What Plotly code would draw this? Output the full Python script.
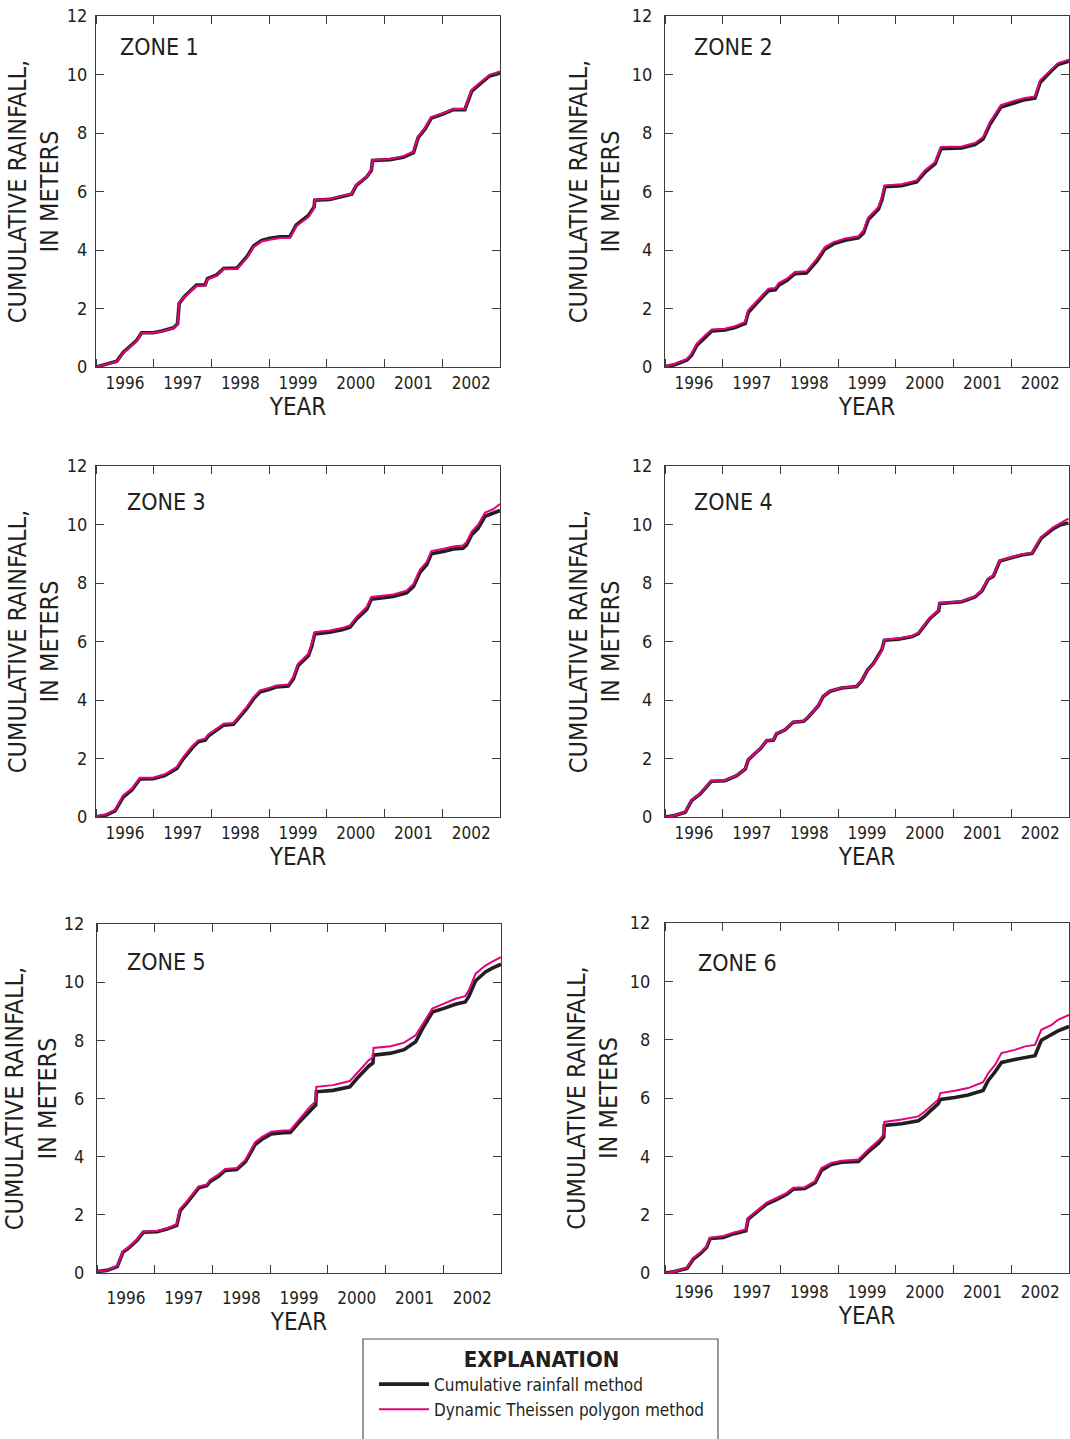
import datetime as dt
import plotly.graph_objects as go

# ---------------- data (decimal years, cumulative rainfall in meters) ----------------
z1_year = [1996.00, 1996.36, 1996.47, 1996.59, 1996.70, 1996.79, 1996.99, 1997.14, 1997.34, 1997.41,
           1997.44, 1997.54, 1997.74, 1997.89, 1997.93, 1998.09, 1998.21, 1998.44, 1998.61, 1998.73,
           1998.87, 1999.01, 1999.19, 1999.36, 1999.47, 1999.68, 1999.78, 1999.79, 2000.05, 2000.28,
           2000.43, 2000.51, 2000.69, 2000.77, 2000.79, 2001.09, 2001.32, 2001.50, 2001.58, 2001.70,
           2001.81, 2002.02, 2002.19, 2002.39, 2002.51, 2002.68, 2002.82, 2003.00]
z1_cumulative = [0.00, 0.20, 0.50, 0.70, 0.90, 1.17, 1.17, 1.23, 1.34, 1.47, 2.17, 2.43, 2.80, 2.81, 3.02, 3.15,
                 3.37, 3.38, 3.76, 4.14, 4.33, 4.40, 4.45, 4.46, 4.86, 5.18, 5.47, 5.70, 5.73, 5.84, 5.91, 6.21,
                 6.50, 6.72, 7.06, 7.09, 7.17, 7.33, 7.84, 8.14, 8.51, 8.66, 8.80, 8.80, 9.43, 9.72, 9.95, 10.05]
z1_theissen = [0.00, 0.19, 0.48, 0.68, 0.88, 1.16, 1.16, 1.22, 1.33, 1.45, 2.19, 2.41, 2.78, 2.78, 3.00, 3.12,
               3.35, 3.35, 3.72, 4.10, 4.29, 4.35, 4.41, 4.42, 4.81, 5.13, 5.43, 5.72, 5.74, 5.85, 5.92, 6.23,
               6.51, 6.74, 7.08, 7.11, 7.20, 7.37, 7.88, 8.17, 8.54, 8.68, 8.82, 8.82, 9.48, 9.76, 9.99, 10.10]

z2_year = [1996.00, 1996.17, 1996.38, 1996.46, 1996.55, 1996.69, 1996.81, 1997.04, 1997.21, 1997.39,
           1997.44, 1997.59, 1997.79, 1997.91, 1997.97, 1998.11, 1998.25, 1998.45, 1998.63, 1998.77,
           1998.92, 1999.12, 1999.35, 1999.44, 1999.52, 1999.70, 1999.76, 1999.81, 2000.10, 2000.36,
           2000.50, 2000.68, 2000.78, 2001.14, 2001.37, 2001.51, 2001.63, 2001.82, 2002.03, 2002.24,
           2002.41, 2002.50, 2002.67, 2002.81, 2003.00]
z2_cumulative = [0.01, 0.08, 0.24, 0.40, 0.74, 1.02, 1.23, 1.27, 1.35, 1.49, 1.86, 2.19, 2.61, 2.64, 2.80, 2.96,
                 3.19, 3.21, 3.62, 4.03, 4.21, 4.33, 4.42, 4.58, 5.03, 5.40, 5.73, 6.16, 6.20, 6.33, 6.65, 6.95,
                 7.46, 7.49, 7.60, 7.79, 8.30, 8.89, 9.03, 9.14, 9.19, 9.73, 10.08, 10.34, 10.46]
z2_theissen = [0.02, 0.11, 0.28, 0.46, 0.80, 1.08, 1.28, 1.31, 1.39, 1.54, 1.94, 2.26, 2.68, 2.70, 2.87, 3.02,
               3.25, 3.27, 3.70, 4.10, 4.27, 4.39, 4.47, 4.67, 5.11, 5.47, 5.81, 6.21, 6.25, 6.38, 6.72, 7.01,
               7.52, 7.54, 7.66, 7.86, 8.38, 8.95, 9.09, 9.20, 9.25, 9.80, 10.14, 10.39, 10.51]

z3_year = [1996.00, 1996.18, 1996.33, 1996.47, 1996.62, 1996.76, 1996.99, 1997.19, 1997.40, 1997.51,
           1997.66, 1997.77, 1997.89, 1997.95, 1998.09, 1998.21, 1998.38, 1998.61, 1998.73, 1998.84,
           1999.01, 1999.13, 1999.33, 1999.42, 1999.50, 1999.68, 1999.74, 1999.79, 2000.05, 2000.28,
           2000.40, 2000.51, 2000.69, 2000.77, 2001.15, 2001.38, 2001.50, 2001.61, 2001.73, 2001.81,
           2002.02, 2002.19, 2002.36, 2002.42, 2002.51, 2002.62, 2002.74, 2002.88, 2003.00]
z3_cumulative = [0.01, 0.07, 0.21, 0.68, 0.92, 1.30, 1.31, 1.42, 1.66, 1.99, 2.35, 2.57, 2.63, 2.78, 2.97, 3.14,
                 3.17, 3.70, 4.04, 4.27, 4.37, 4.45, 4.48, 4.72, 5.17, 5.51, 5.85, 6.26, 6.32, 6.41, 6.49, 6.76,
                 7.10, 7.45, 7.54, 7.66, 7.88, 8.36, 8.63, 9.00, 9.08, 9.16, 9.19, 9.30, 9.65, 9.87, 10.28,
                 10.38, 10.48]
z3_theissen = [0.02, 0.09, 0.25, 0.74, 0.97, 1.34, 1.34, 1.46, 1.71, 2.05, 2.41, 2.62, 2.68, 2.83, 3.02, 3.19,
               3.21, 3.76, 4.10, 4.33, 4.42, 4.50, 4.53, 4.78, 5.24, 5.58, 5.92, 6.32, 6.38, 6.47, 6.55, 6.83,
               7.18, 7.52, 7.61, 7.74, 7.97, 8.45, 8.72, 9.09, 9.17, 9.25, 9.28, 9.40, 9.76, 9.99, 10.41,
               10.52, 10.70]

z4_year = [1996.00, 1996.17, 1996.35, 1996.46, 1996.61, 1996.69, 1996.80, 1997.04, 1997.24, 1997.39,
           1997.44, 1997.56, 1997.65, 1997.76, 1997.88, 1997.93, 1998.08, 1998.22, 1998.40, 1998.48,
           1998.66, 1998.74, 1998.86, 1999.06, 1999.32, 1999.41, 1999.51, 1999.61, 1999.76, 1999.80,
           2000.04, 2000.27, 2000.39, 2000.59, 2000.74, 2000.76, 2001.14, 2001.37, 2001.49, 2001.60,
           2001.69, 2001.80, 2002.00, 2002.18, 2002.36, 2002.52, 2002.73, 2002.84, 2002.99]
z4_cumulative = [0.00, 0.05, 0.16, 0.56, 0.79, 0.96, 1.22, 1.24, 1.41, 1.64, 1.95, 2.18, 2.33, 2.61, 2.63, 2.84,
                 2.98, 3.24, 3.27, 3.41, 3.81, 4.12, 4.30, 4.41, 4.46, 4.66, 5.03, 5.24, 5.73, 6.04, 6.08, 6.16,
                 6.27, 6.79, 7.05, 7.30, 7.36, 7.52, 7.73, 8.13, 8.24, 8.75, 8.87, 8.96, 9.01, 9.54, 9.86,
                 9.98, 10.05]
z4_theissen = [0.00, 0.05, 0.17, 0.57, 0.80, 0.97, 1.23, 1.25, 1.42, 1.65, 1.96, 2.19, 2.34, 2.62, 2.64, 2.85,
               2.99, 3.25, 3.28, 3.42, 3.82, 4.13, 4.31, 4.42, 4.47, 4.67, 5.04, 5.22, 5.70, 6.06, 6.10, 6.18,
               6.29, 6.81, 7.07, 7.32, 7.38, 7.54, 7.75, 8.15, 8.26, 8.77, 8.89, 8.98, 9.03, 9.57, 9.91,
               10.03, 10.20]

z5_year = [1996.00, 1996.17, 1996.35, 1996.45, 1996.54, 1996.69, 1996.80, 1997.04, 1997.21, 1997.38,
           1997.44, 1997.56, 1997.76, 1997.90, 1997.96, 1998.10, 1998.22, 1998.42, 1998.57, 1998.74,
           1998.86, 1999.02, 1999.23, 1999.35, 1999.52, 1999.69, 1999.79, 1999.80, 2000.09, 2000.38,
           2000.50, 2000.71, 2000.78, 2000.79, 2001.09, 2001.32, 2001.52, 2001.64, 2001.81, 2002.01,
           2002.21, 2002.38, 2002.44, 2002.56, 2002.73, 2002.85, 2003.00]
z5_cumulative = [0.05, 0.09, 0.22, 0.72, 0.85, 1.12, 1.40, 1.42, 1.51, 1.64, 2.15, 2.42, 2.93, 3.00, 3.15, 3.32,
                 3.53, 3.56, 3.82, 4.42, 4.60, 4.78, 4.82, 4.83, 5.22, 5.60, 5.78, 6.23, 6.28, 6.40, 6.68, 7.12,
                 7.22, 7.49, 7.56, 7.68, 7.95, 8.40, 8.97, 9.10, 9.24, 9.32, 9.50, 10.05, 10.35, 10.48, 10.62]
z5_theissen = [0.05, 0.09, 0.24, 0.75, 0.87, 1.15, 1.42, 1.44, 1.53, 1.67, 2.21, 2.47, 2.98, 3.04, 3.21, 3.38,
               3.58, 3.61, 3.89, 4.50, 4.68, 4.86, 4.90, 4.91, 5.32, 5.72, 5.90, 6.40, 6.46, 6.60, 6.86, 7.32,
               7.42, 7.74, 7.80, 7.92, 8.17, 8.57, 9.09, 9.26, 9.43, 9.52, 9.71, 10.29, 10.57, 10.71, 10.86]

z6_year = [1996.00, 1996.17, 1996.38, 1996.49, 1996.61, 1996.72, 1996.78, 1997.01, 1997.18, 1997.40,
           1997.44, 1997.59, 1997.76, 1997.94, 1998.11, 1998.22, 1998.42, 1998.60, 1998.71, 1998.88,
           1999.06, 1999.35, 1999.52, 1999.70, 1999.79, 1999.80, 2000.10, 2000.39, 2000.50, 2000.73,
           2000.77, 2001.02, 2001.25, 2001.51, 2001.60, 2001.72, 2001.83, 2002.06, 2002.24, 2002.41,
           2002.52, 2002.70, 2002.81, 2003.00]
z6_cumulative = [0.00, 0.05, 0.16, 0.48, 0.66, 0.88, 1.18, 1.22, 1.34, 1.45, 1.85, 2.08, 2.36, 2.52, 2.70, 2.87,
                 2.90, 3.10, 3.52, 3.72, 3.80, 3.82, 4.15, 4.45, 4.66, 5.06, 5.12, 5.22, 5.38, 5.80, 5.95, 6.02,
                 6.10, 6.26, 6.60, 6.90, 7.22, 7.32, 7.40, 7.45, 7.98, 8.20, 8.30, 8.45]
z6_theissen = [0.00, 0.05, 0.18, 0.52, 0.70, 0.92, 1.21, 1.27, 1.38, 1.49, 1.89, 2.12, 2.41, 2.58, 2.75, 2.92,
               2.94, 3.15, 3.60, 3.77, 3.85, 3.89, 4.23, 4.54, 4.75, 5.18, 5.26, 5.37, 5.54, 5.94, 6.17, 6.25,
               6.34, 6.54, 6.85, 7.14, 7.54, 7.65, 7.77, 7.82, 8.34, 8.51, 8.68, 8.85]

zone_names = ["ZONE 1", "ZONE 2", "ZONE 3", "ZONE 4", "ZONE 5", "ZONE 6"]
series_names = ["Cumulative rainfall method", "Dynamic Theissen polygon method"]
y_ticks = [0, 2, 4, 6, 8, 10, 12]

zones = [
    (z1_year, z1_cumulative, z1_theissen),
    (z2_year, z2_cumulative, z2_theissen),
    (z3_year, z3_cumulative, z3_theissen),
    (z4_year, z4_cumulative, z4_theissen),
    (z5_year, z5_cumulative, z5_theissen),
    (z6_year, z6_cumulative, z6_theissen),
]

# ---------------- layout helpers ----------------
W, H = 1070, 1439
FONT = "Liberation Sans Narrow, DejaVu Sans Condensed, Arial Narrow, sans-serif"
TXT = "#231f20"
AX = "#3c3c3c"
BLACK = "#231f20"
PINK = "#e5007e"

# panel boxes in pixels: left, right, top, bottom
boxes = [
    (96, 500, 16, 367),
    (665, 1069, 16, 367),
    (96, 500, 466, 817),
    (665, 1069, 466, 817),
    (97, 501, 924, 1273),
    (665, 1069, 923, 1273),
]
# per-panel fine tuning: x tick label standoff, x title standoff, y tick label standoff, y title standoff
tune = [
    (0, 5, 4, 0),
    (0, 5, 8, 4),
    (0, 6, 4, 0),
    (0, 6, 8, 4),
    (9, 6, 8, 0),
    (3, 6, 10, 4),
]
zone_label_pos = [(118, 47), (692, 47), (125, 502), (692, 502), (125, 962), (696, 963)]


def to_date(y):
    yr = int(y)
    start = dt.datetime(yr, 1, 1)
    end = dt.datetime(yr + 1, 1, 1)
    return start + (end - start) * (y - yr)


fig = go.Figure()

for i, (yrs, cum, thi) in enumerate(zones):
    k = "" if i == 0 else str(i + 1)
    dates = [to_date(v) for v in yrs]
    fig.add_trace(go.Scatter(
        x=dates, y=cum, mode="lines", name=series_names[0],
        line=dict(color=BLACK, width=3.6), xaxis="x" + k, yaxis="y" + k,
        legendgroup="cum", showlegend=(i == 0), legendrank=1,
    ))
    fig.add_trace(go.Scatter(
        x=dates, y=thi, mode="lines", name=series_names[1],
        line=dict(color=PINK, width=2), xaxis="x" + k, yaxis="y" + k,
        legendgroup="thi", showlegend=(i == 0), legendrank=2,
    ))

layout = dict(
    width=W, height=H,
    margin=dict(l=0, r=0, t=0, b=0, autoexpand=False),
    paper_bgcolor="white", plot_bgcolor="white",
    font=dict(family=FONT, color=TXT, size=17),
    showlegend=True,
)

annotations = []
for i, (l, r, t, b) in enumerate(boxes):
    k = "" if i == 0 else str(i + 1)
    xs, xts, ys, yts = tune[i]
    common = dict(
        showline=True, linecolor=AX, linewidth=1.3, mirror="ticks",
        ticks="inside", ticklen=8, tickwidth=1.3, tickcolor=AX,
        showgrid=False, zeroline=False, fixedrange=True, automargin=False,
    )
    layout["xaxis" + k] = dict(
        common,
        domain=[l / W, r / W], anchor="y" + k,
        type="date", range=["1996-01-01", "2003-01-01"],
        tick0="1996-01-01", dtick="M12", tickformat="%Y", ticklabelmode="period",
        tickfont=dict(size=17), ticklabelstandoff=xs,
        title=dict(text="YEAR", font=dict(size=24), standoff=xts),
    )
    layout["yaxis" + k] = dict(
        common,
        domain=[1 - b / H, 1 - t / H], anchor="x" + k,
        range=[0, 12], tickvals=y_ticks,
        tickfont=dict(size=18), ticklabelstandoff=ys,
        title=dict(text="CUMULATIVE RAINFALL,<br>IN METERS", font=dict(size=25), standoff=yts),
    )
    zx, zy = zone_label_pos[i]
    annotations.append(dict(
        text=zone_names[i], xref="paper", yref="paper", x=zx / W, y=1 - zy / H,
        xanchor="left", yanchor="middle", showarrow=False, font=dict(size=23, color=TXT),
    ))

layout["annotations"] = annotations
layout["shapes"] = [dict(
    type="rect", xref="paper", yref="paper",
    x0=363 / W, x1=718 / W, y0=-0.02, y1=1 - 1339 / H,
    line=dict(color="#555555", width=1.2), fillcolor="rgba(0,0,0,0)",
)]
layout["legend"] = dict(
    x=374 / W, y=1 - 1338 / H, xanchor="left", yanchor="top",
    bgcolor="rgba(0,0,0,0)", borderwidth=0, itemwidth=50,
    font=dict(size=17, color=TXT), tracegroupgap=0,
    title=dict(text="<b>EXPLANATION</b>", side="top center", font=dict(size=22, color=TXT)),
)

fig.update_layout(**layout)
fig.write_html("out.html")
